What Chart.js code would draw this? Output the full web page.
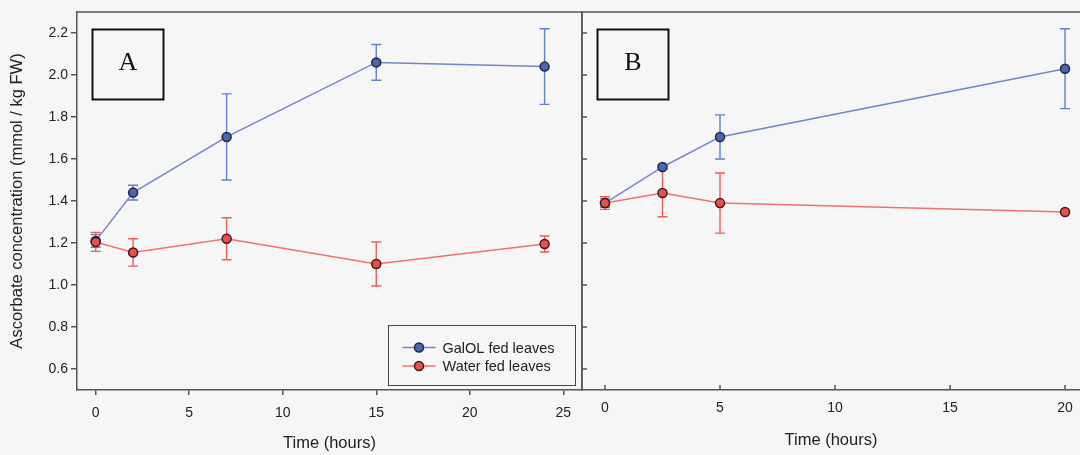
<!DOCTYPE html>
<html><head><meta charset="utf-8">
<script src="https://cdn.jsdelivr.net/npm/chart.js@4.4.1/dist/chart.umd.min.js"></script>
<style>
html,body{margin:0;padding:0;background:#f6f6f6;width:1080px;height:455px;overflow:hidden;position:relative;}
canvas{position:absolute;top:0;}
#ca{left:0;}
#cb{left:560px;}
</style></head><body>
<canvas id="ca" width="600" height="455"></canvas>
<canvas id="cb" width="540" height="455"></canvas>
<script>
// ---- data ----
const seriesNames = ['GalOL fed leaves', 'Water fed leaves'];
const panelLetters = ['A', 'B'];
const yTitle = 'Ascorbate concentration (mmol / kg FW)';
const xTitle = 'Time (hours)';

const timeA = [0, 2, 7, 15, 24];
const galolA = [1.21, 1.44, 1.705, 2.06, 2.04];
const galolAErr = [0.03, 0.035, 0.205, 0.085, 0.18];
const waterA = [1.205, 1.155, 1.22, 1.10, 1.195];
const waterAErr = [0.045, 0.065, 0.10, 0.105, 0.038];

const timeB = [0, 2.5, 5, 20];
const galolB = [1.39, 1.562, 1.705, 2.03];
const galolBErr = [0.02, 0.01, 0.105, 0.19];
const waterB = [1.39, 1.438, 1.39, 1.348];
const waterBErr = [0.03, 0.113, 0.143, 0.0];

const xTicksA = [0, 5, 10, 15, 20, 25];
const xTicksB = [0, 5, 10, 15, 20];
const yTicks = [0.6, 0.8, 1.0, 1.2, 1.4, 1.6, 1.8, 2.0, 2.2];

// ---- styles ----
const FONT = "'Liberation Sans', Arial, sans-serif";
const TXT = '#222';
const AX = '#555';
const BLUE = {line:'#7585c6', fill:'#4a66ad', border:'#1e2748', err:'#5f82c8'};
const RED = {line:'#ee7272', fill:'#e8514b', border:'#4a1414', err:'#ec5d5d'};
Chart.defaults.font.family = FONT;

const pts = (xs, ys) => xs.map((x, i) => ({x: x, y: ys[i]}));

function makeDatasets(t, g, gErr, w, wErr) {
  return [
    {label: seriesNames[0], data: pts(t, g), err: gErr, errColor: BLUE.err, order: 1,
     borderColor: BLUE.line, backgroundColor: BLUE.fill, pointBorderColor: BLUE.border,
     borderWidth: 1.5, pointRadius: 4.5, pointBorderWidth: 1.5, tension: 0, sty: BLUE},
    {label: seriesNames[1], data: pts(t, w), err: wErr, errColor: RED.err, order: 0,
     borderColor: RED.line, backgroundColor: RED.fill, pointBorderColor: RED.border,
     borderWidth: 1.5, pointRadius: 4.5, pointBorderWidth: 1.5, tension: 0, sty: RED}
  ];
}

const errorBars = {
  id: 'errorBars',
  beforeDatasetsDraw(chart) {
    const {ctx, scales: {x, y}} = chart;
    chart.data.datasets.forEach(ds => {
      ctx.save();
      ctx.strokeStyle = ds.errColor; ctx.lineWidth = 1.4;
      ds.data.forEach((p, j) => {
        const e = ds.err[j]; if (!e) return;
        const px = x.getPixelForValue(p.x);
        const top = y.getPixelForValue(p.y + e), bot = y.getPixelForValue(p.y - e);
        ctx.beginPath();
        ctx.moveTo(px, top); ctx.lineTo(px, bot);
        ctx.moveTo(px - 5, top); ctx.lineTo(px + 5, top);
        ctx.moveTo(px - 5, bot); ctx.lineTo(px + 5, bot);
        ctx.stroke();
      });
      ctx.restore();
    });
  }
};

const frame = {
  id: 'frame',
  afterDraw(chart, args, o) {
    const {ctx, chartArea: ca, scales: {x, y}} = chart;
    ctx.save();
    ctx.strokeStyle = AX; ctx.lineWidth = 1.5;
    ctx.beginPath();
    ctx.moveTo(ca.left, ca.top); ctx.lineTo(ca.right, ca.top);
    if (o.rightBorder) { ctx.moveTo(ca.right, ca.top); ctx.lineTo(ca.right, ca.bottom); }
    ctx.stroke();
    if (o.inward) {
      ctx.beginPath();
      x.ticks.forEach(t => { const px = x.getPixelForValue(t.value); ctx.moveTo(px, ca.bottom); ctx.lineTo(px, ca.bottom - 5); });
      y.ticks.forEach(t => { const py = y.getPixelForValue(t.value); ctx.moveTo(ca.left, py); ctx.lineTo(ca.left + 5, py); });
      ctx.stroke();
    }
    // letter box
    const bx = ca.left + 15.5, by = ca.top + 17.5, bw = 71, bh = 70;
    ctx.lineWidth = 2; ctx.strokeStyle = '#111';
    ctx.strokeRect(bx, by, bw, bh);
    ctx.fillStyle = '#111';
    ctx.font = "26px 'Liberation Serif', 'Times New Roman', serif";
    ctx.textAlign = 'center'; ctx.textBaseline = 'middle';
    ctx.fillText(o.letter, bx + bw / 2, by + bh / 2 - 1);
    // legend
    if (o.legend) {
      const lw = 187, lh = 60;
      const lx = ca.right - 7 - lw + 0.5, ly = ca.bottom - 5 - lh + 0.5;
      ctx.fillStyle = '#f6f6f6'; ctx.fillRect(lx, ly, lw, lh);
      ctx.lineWidth = 1; ctx.strokeStyle = '#444'; ctx.strokeRect(lx, ly, lw, lh);
      const rows = [chart.data.datasets[0], chart.data.datasets[1]];
      rows.forEach((ds, i) => {
        const cy = ly + 22 + i * 18.5;
        ctx.strokeStyle = ds.sty.line; ctx.lineWidth = 1.5;
        ctx.beginPath(); ctx.moveTo(lx + 14, cy); ctx.lineTo(lx + 47, cy); ctx.stroke();
        ctx.beginPath(); ctx.arc(lx + 30.5, cy, 4.5, 0, Math.PI * 2);
        ctx.fillStyle = ds.sty.fill; ctx.fill();
        ctx.strokeStyle = ds.sty.border; ctx.lineWidth = 1.5; ctx.stroke();
        ctx.fillStyle = TXT; ctx.font = '14.5px ' + FONT;
        ctx.textAlign = 'left'; ctx.textBaseline = 'middle';
        ctx.fillText(ds.label, lx + 54, cy + 1);
      });
    }
    ctx.restore();
  }
};

function makeChart(id, cfg) {
  const inward = cfg.inward;
  return new Chart(document.getElementById(id), {
    type: 'line',
    data: {datasets: cfg.datasets},
    plugins: [errorBars, frame],
    options: {
      responsive: false, animation: false,
      layout: {padding: cfg.padding},
      plugins: {legend: {display: false}, tooltip: {enabled: false},
        frame: {letter: cfg.letter, inward: inward, legend: cfg.legend, rightBorder: cfg.rightBorder}},
      scales: {
        x: {
          type: 'linear', min: cfg.xMin, max: cfg.xMax,
          afterBuildTicks: s => { s.ticks = cfg.xTicks.map(v => ({value: v})); },
          afterFit: s => { s.height = 65; },
          grid: {drawOnChartArea: false, drawTicks: !inward, tickLength: 5, color: AX, lineWidth: 1.5},
          border: {display: true, color: AX, width: 1.5},
          ticks: {color: TXT, font: {size: 14}, padding: inward ? 10 : 10, maxRotation: 0,
                  callback: v => String(v)},
          title: {display: true, text: xTitle, color: TXT, font: {size: 16.5},
                  padding: {top: 0, bottom: cfg.xTitlePad}}
        },
        y: {
          type: 'linear', min: 0.5, max: 2.3,
          afterBuildTicks: s => { s.ticks = yTicks.map(v => ({value: v})); },
          afterFit: s => { s.width = cfg.yWidth; },
          grid: {drawOnChartArea: false, drawTicks: !inward, tickLength: 6, color: AX, lineWidth: 1.5},
          border: {display: true, color: AX, width: 1.5},
          ticks: {display: !inward, color: TXT, font: {size: 14}, padding: 3,
                  callback: v => v.toFixed(1)},
          title: {display: !inward, text: yTitle, color: TXT, font: {size: 16.5},
                  padding: {top: 8, bottom: 0}}
        }
      }
    }
  });
}

makeChart('ca', {
  datasets: makeDatasets(timeA, galolA, galolAErr, waterA, waterAErr),
  padding: {top: 12, right: 18, left: 0, bottom: 0},
  xMin: -1, xMax: 26, xTicks: xTicksA, yWidth: 77, letter: panelLetters[0],
  inward: false, legend: true, rightBorder: true, xTitlePad: 2
});
makeChart('cb', {
  datasets: makeDatasets(timeB, galolB, galolBErr, waterB, waterBErr),
  padding: {top: 12, right: 20, left: 0, bottom: 0},
  xMin: -1, xMax: 20.65, xTicks: xTicksB, yWidth: 22, letter: panelLetters[1],
  inward: true, legend: false, rightBorder: false, xTitlePad: 5
});
</script>
</body></html>
